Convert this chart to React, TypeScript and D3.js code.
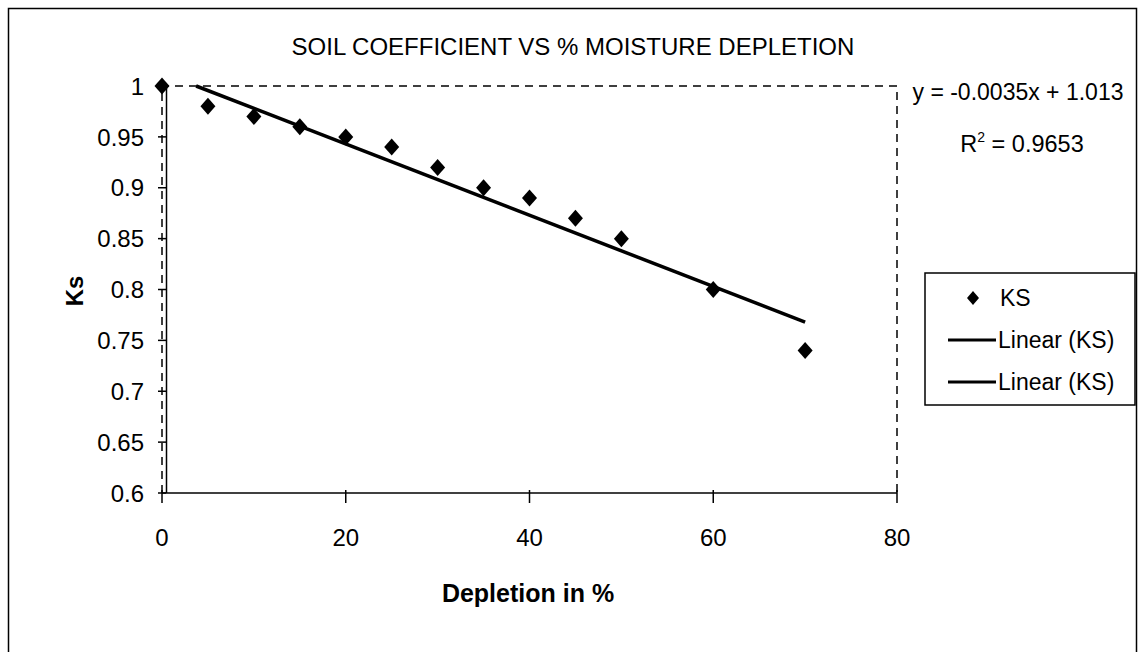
import React from "react";
import * as d3 from "d3";

const depletion = [0, 5, 10, 15, 20, 25, 30, 35, 40, 45, 50, 60, 70];
const ksValues = [1, 0.98, 0.97, 0.96, 0.95, 0.94, 0.92, 0.9, 0.89, 0.87, 0.85, 0.8, 0.74];
const xTicks = [0, 20, 40, 60, 80];
const yTicks = [0.6, 0.65, 0.7, 0.75, 0.8, 0.85, 0.9, 0.95, 1];
const slope = -0.0035;
const intercept = 1.013;
const legendLabels = ["KS", "Linear (KS)", "Linear (KS)"];

const FONT = "'Liberation Sans', Arial, sans-serif";

export default function App() {
  const left = 162, right = 897, top = 86, bottom = 493;
  const x = d3.scaleLinear().domain([0, 80]).range([left, right]);
  const y = d3.scaleLinear().domain([0.6, 1]).range([bottom, top]);

  const xStart = (1 - intercept) / slope;
  const xEnd = 70;
  const trend = d3.line<number>()
    .x((d) => x(d))
    .y((d) => y(slope * d + intercept))([xStart, xEnd]);

  const diamond = (cx: number, cy: number, w = 7.5, h = 8.5) =>
    `M${cx},${cy - h}L${cx + w},${cy}L${cx},${cy + h}L${cx - w},${cy}Z`;

  return (
    <svg
      width={1138}
      height={652}
      style={{ position: "absolute", left: 0, top: 0, background: "#fff" }}
      fontFamily={FONT}
    >
      <rect x={0} y={0} width={1138} height={652} fill="#fff" />
      {/* outer border */}
      <rect x={8.5} y={8.5} width={1128} height={660} fill="none" stroke="#000" strokeWidth={1.5} />

      {/* title */}
      <text x={573} y={55} textAnchor="middle" fontSize={24} fill="#000">
        SOIL COEFFICIENT VS % MOISTURE DEPLETION
      </text>

      {/* dashed plot area border */}
      <path
        d={`M${left},${bottom}V${top}H${right}V${bottom}`}
        fill="none"
        stroke="#000"
        strokeWidth={1.5}
        strokeDasharray="8,6"
      />

      {/* y axis solid line */}
      <line x1={left + 4.5} x2={left + 4.5} y1={top} y2={bottom} stroke="#000" strokeWidth={1.5} />
      {/* x axis */}
      <line x1={left} x2={right} y1={bottom} y2={bottom} stroke="#000" strokeWidth={1.5} />

      {yTicks.map((t) => (
        <g key={"y" + t}>
          <line x1={left - 4} x2={left + 4} y1={y(t)} y2={y(t)} stroke="#000" strokeWidth={1.5} />
          <text x={144} y={y(t)} dy="0.36em" textAnchor="end" fontSize={24} fill="#000">
            {String(t)}
          </text>
        </g>
      ))}
      {xTicks.map((t) => (
        <g key={"x" + t}>
          <line x1={x(t)} x2={x(t)} y1={bottom - 3} y2={bottom + 10} stroke="#000" strokeWidth={1.5} />
          <text x={x(t)} y={546} textAnchor="middle" fontSize={24} fill="#000">
            {String(t)}
          </text>
        </g>
      ))}

      {/* axis titles */}
      <text x={528} y={602} textAnchor="middle" fontSize={25} fontWeight="bold" fill="#000">
        Depletion in %
      </text>
      <text
        transform="translate(83,291) rotate(-90)"
        textAnchor="middle"
        fontSize={24}
        fontWeight="bold"
        fill="#000"
      >
        Ks
      </text>

      {/* trend line */}
      <path d={trend ?? ""} fill="none" stroke="#000" strokeWidth={3.5} />

      {/* points */}
      {depletion.map((d, i) => (
        <path key={"p" + i} d={diamond(x(d), y(ksValues[i]))} fill="#000" />
      ))}

      {/* equation */}
      <text x={1018} y={100} textAnchor="middle" fontSize={23} fill="#000">
        y = -0.0035x + 1.013
      </text>
      <text x={1022} y={152} textAnchor="middle" fontSize={23.5} fill="#000">
        R<tspan fontSize={14} dy={-10}>2</tspan>
        <tspan dy={10}> = 0.9653</tspan>
      </text>

      {/* legend */}
      <rect x={925} y={273} width={210} height={132} fill="#fff" stroke="#000" strokeWidth={1.5} />
      {legendLabels.map((lab, i) => {
        const cy = 298 + i * 42;
        return (
          <g key={"l" + i}>
            {i === 0 ? (
              <path d={diamond(973, cy, 6, 7)} fill="#000" />
            ) : (
              <line x1={948} x2={996} y1={cy} y2={cy} stroke="#000" strokeWidth={3} />
            )}
            <text x={i === 0 ? 1000 : 998} y={cy} dy="0.36em" fontSize={23} fill="#000">
              {lab}
            </text>
          </g>
        );
      })}
    </svg>
  );
}
